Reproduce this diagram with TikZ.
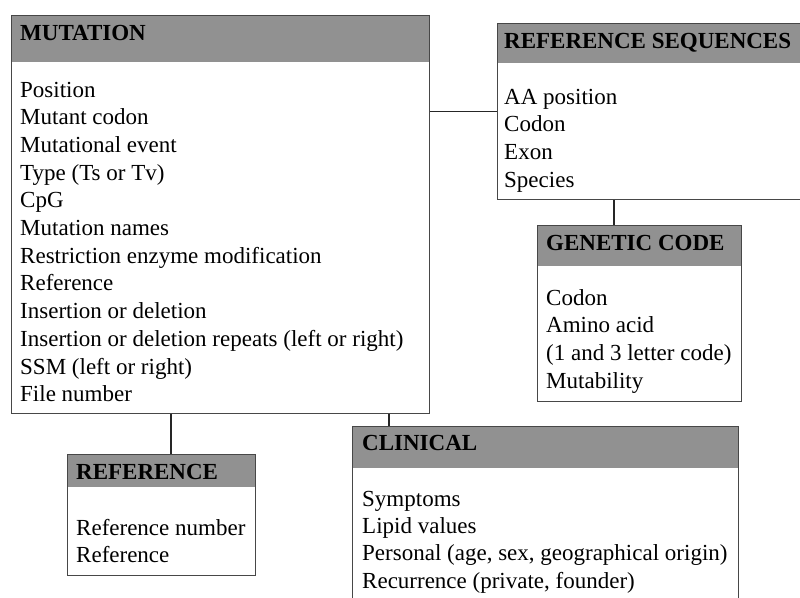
\documentclass[tikz,border=0pt]{standalone}
\usepackage{fontspec}
\setmainfont{Liberation Serif}
\usetikzlibrary{calc, positioning}

\tikzset{
  box/.style={draw=black!72, line width=1pt, anchor=north west, inner sep=0pt},
  head/.style={fill=black!43},
  title/.style={anchor=base west, inner sep=0pt, font=\fontsize{23}{27}\selectfont\bfseries},
  entry/.style={anchor=base west, inner sep=0pt, font=\fontsize{23}{27}\selectfont},
  link/.style={draw=black!85, line width=1.2pt}
}

\begin{document}
\begin{tikzpicture}[x=1pt, y=-1pt]
\useasboundingbox (0,0) rectangle (800,597);
\clip (0,0) rectangle (800,597);
% Mutation table
\fill[head] (11,15) rectangle (429,62);
\node[box, minimum width=418pt, minimum height=398pt] (mutation) at (11,15) {};
\node[title] (mutation-title) at (20,40) {MUTATION};
\foreach \txt [count=\i from 0] in {Position, Mutant codon, Mutational event,
  Type (Ts or Tv), CpG, Mutation names, Restriction enzyme modification, Reference,
  Insertion or deletion, Insertion or deletion repeats (left or right),
  SSM (left or right), File number}
  \node[entry] (mutation-\i) at (20,97+27.7*\i) {\txt};
% Reference sequences table
\fill[head] (497,23) rectangle (802,63);
\node[box, minimum width=305pt, minimum height=176pt] (refseq) at (497,23) {};
\node[title] (refseq-title) at (504,48) {REFERENCE SEQUENCES};
\foreach \txt [count=\i from 0] in {AA position, Codon, Exon, Species}
  \node[entry] (refseq-\i) at (504,104+27.7*\i) {\txt};
% Genetic code table
\fill[head] (537,225) rectangle (741,266);
\node[box, minimum width=204pt, minimum height=176pt] (genetic) at (537,225) {};
\node[title] (genetic-title) at (546,250) {GENETIC CODE};
\foreach \txt [count=\i from 0] in {Codon, Amino acid, (1 and 3 letter code), Mutability}
  \node[entry] (genetic-\i) at (546,305+27.7*\i) {\txt};
% Clinical table
\fill[head] (352,426) rectangle (738,468);
\node[box, minimum width=386pt, minimum height=194pt] (clinical) at (352,426) {};
\node[title] (clinical-title) at (362,450) {CLINICAL};
\foreach \txt [count=\i from 0] in {Symptoms, Lipid values,
  {Personal (age, sex, geographical origin)}, {Recurrence (private, founder)}}
  \node[entry] (clinical-\i) at (362,506+27.4*\i) {\txt};
% Reference table
\fill[head] (67,454) rectangle (255,487);
\node[box, minimum width=188pt, minimum height=121pt] (reference) at (67,454) {};
\node[title] (reference-title) at (76,479) {REFERENCE};
\foreach \txt [count=\i from 0] in {Reference number, Reference}
  \node[entry] (reference-\i) at (76,535+27.5*\i) {\txt};
% Links
\draw[link] (refseq.west) -- (refseq.west -| mutation.east);
\draw[link] ([xshift=77pt]genetic.north west) -- ([xshift=77pt]genetic.north west |- refseq.south);
\draw[link] ([xshift=104pt]reference.north west) -- ([xshift=104pt]reference.north west |- mutation.south);
\draw[link] ([xshift=37pt]clinical.north west) -- ([xshift=37pt]clinical.north west |- mutation.south);
\end{tikzpicture}
\end{document}
